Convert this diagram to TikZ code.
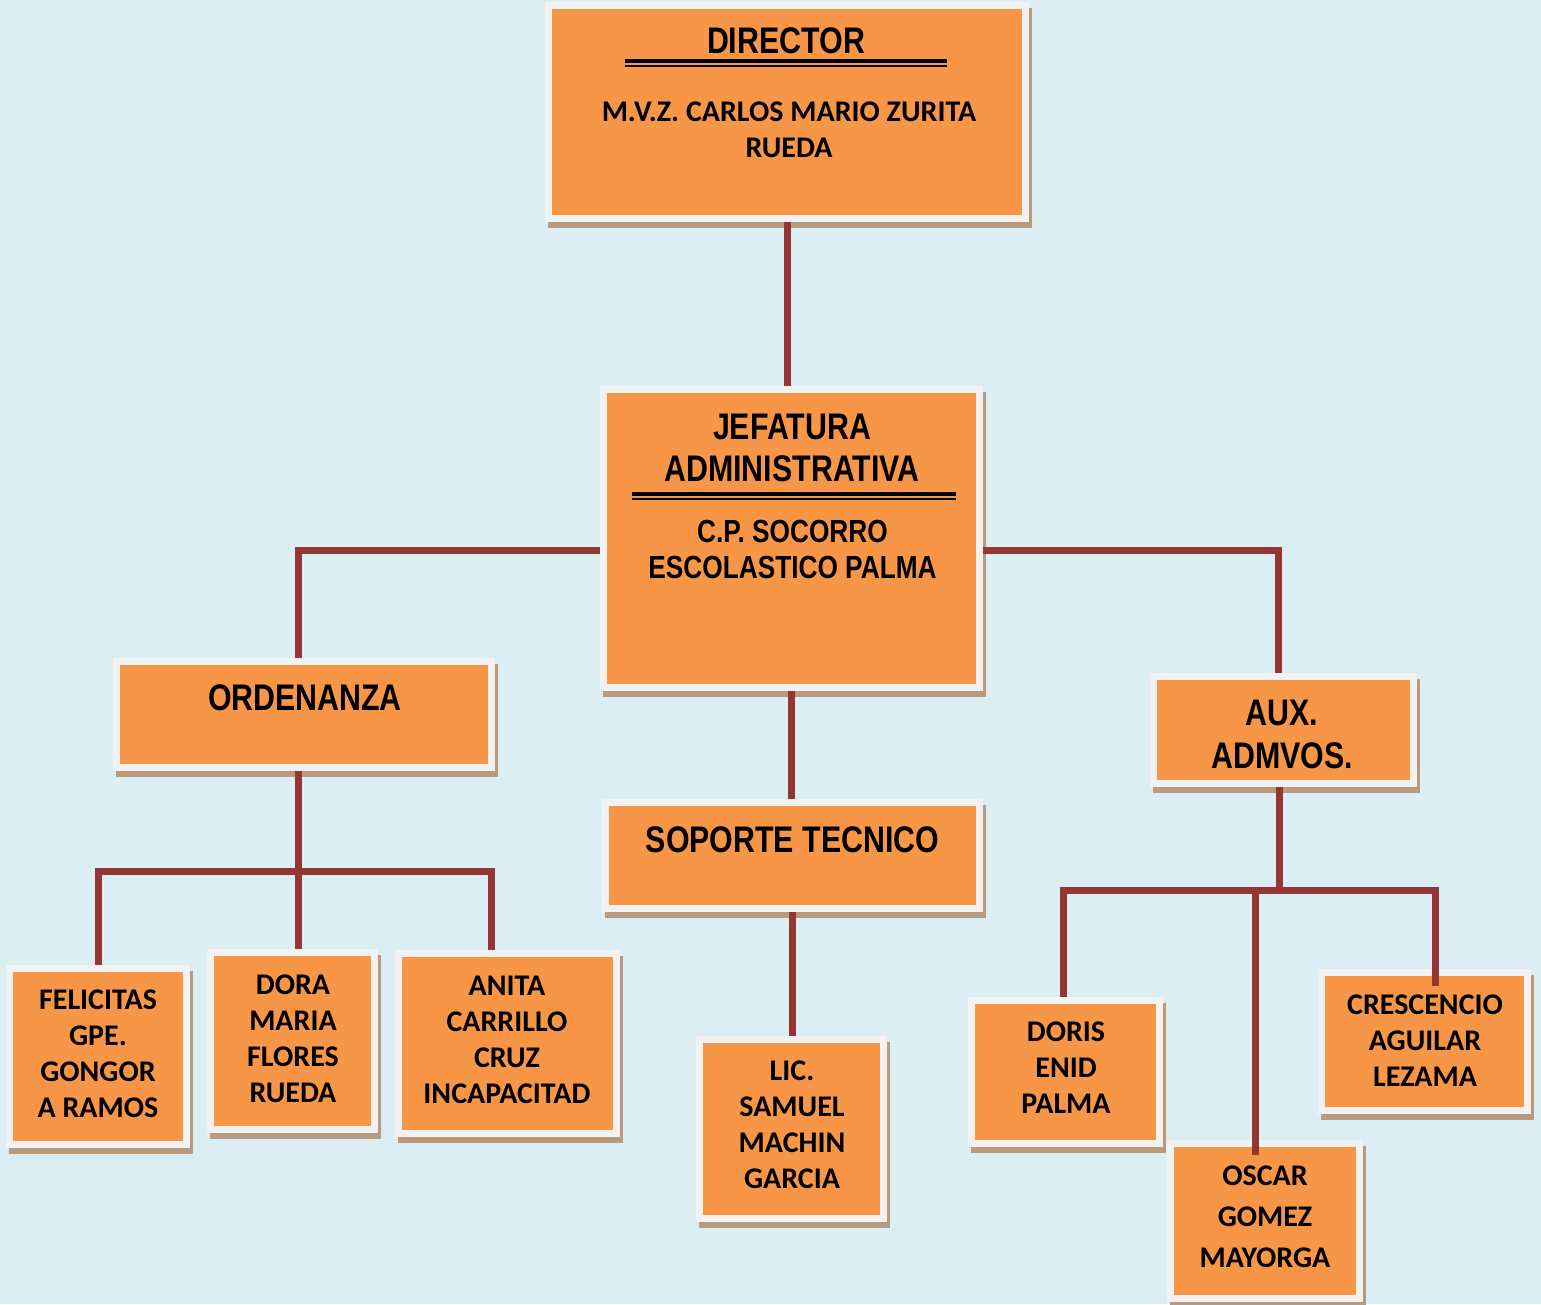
\documentclass[tikz,border=0pt]{standalone}
\usepackage{fontspec}
\newfontfamily\hdfont[FakeStretch=0.82]{Liberation Sans}
\newfontfamily\nmfont{Carlito}
\usetikzlibrary{shadows,positioning}
\definecolor{bgc}{HTML}{DAEEF3}
\definecolor{boxc}{HTML}{F79646}
\definecolor{framec}{HTML}{F2F2F2}
\definecolor{shadc}{HTML}{B99A7C}
\definecolor{linkc}{HTML}{943634}

\begin{document}
\begin{tikzpicture}[x=1pt, y=-1pt,
    box/.style={rectangle, fill=boxc, draw=framec, line width=7pt, inner sep=0pt,
      drop shadow={shadow xshift=3pt, shadow yshift=-6pt, fill=shadc, draw=shadc,
                   line width=7pt, opacity=1}},
    link/.style={draw=linkc, line width=7pt},
    ulthick/.style={draw=black, line width=4pt},
    ulthin/.style={draw=black, line width=1.6pt},
    hd/.style={font=\hdfont\bfseries\fontsize{37}{42}\selectfont, align=center, anchor=base, inner sep=0pt},
    sub/.style={font=\hdfont\bfseries\fontsize{32}{36}\selectfont, align=center, anchor=base, inner sep=0pt},
    nm/.style={font=\nmfont\bfseries\fontsize{30}{36}\selectfont, align=center, anchor=base, inner sep=0pt}]

  \fill[bgc] (0,0) rectangle (1541,1304);
  \useasboundingbox (0,0) rectangle (1541,1304);

  % boxes
  \node[box, minimum width=477pt, minimum height=213pt] (dir) at (787,112) {};
  \node[box, minimum width=376pt, minimum height=298pt] (jefe) at (791.5,538.5) {};
  \node[box, minimum width=375pt, minimum height=106pt] (orden) at (304,714.5) {};
  \node[box, minimum width=374pt, minimum height=106pt] (sop) at (792.5,855.5) {};
  \node[box, minimum width=260pt, minimum height=107pt] (aux) at (1283.5,730) {};
  \node[box, minimum width=177pt, minimum height=176pt] (felic) at (98,1056.5) {};
  \node[box, minimum width=164pt, minimum height=177pt] (dora) at (292.5,1041) {};
  \node[box, minimum width=218pt, minimum height=180pt] (anita) at (507.5,1043.5) {};
  \node[box, minimum width=184pt, minimum height=179pt] (lic) at (791.5,1129) {};
  \node[box, minimum width=188pt, minimum height=143pt] (doris) at (1065.5,1072) {};
  \node[box, minimum width=189pt, minimum height=155pt] (oscar) at (1265,1221) {};
  \node[box, minimum width=206pt, minimum height=138pt] (cresc) at (1424.5,1041.5) {};

  % texts (base = last line)
  \node[hd] (dirt) at (786,53) {DIRECTOR};
  \draw[ulthick] (625,61.3) -- (947,61.3);
  \draw[ulthin] (625,65.8) -- (947,65.8);
  \node[nm] (dirn) at (789,157) {M.V.Z. CARLOS MARIO ZURITA\\RUEDA};
  \node[hd] (jefet) at (792,481) {JEFATURA\\ADMINISTRATIVA};
  \draw[ulthick] (632,494.2) -- (956,494.2);
  \draw[ulthin] (632,499.2) -- (956,499.2);
  \node[sub] (jefen) at (792.5,578) {C.P. SOCORRO\\ESCOLASTICO PALMA};
  \node[hd] (ordent) at (305,710) {ORDENANZA};
  \node[hd] (sopt) at (792.5,852) {SOPORTE TECNICO};
  \node[hd, font=\hdfont\bfseries\fontsize{37}{43}\selectfont] (auxt) at (1282,768) {AUX.\\ADMVOS.};
  \node[nm] (felict) at (98,1117) {FELICITAS\\GPE.\\GONGOR\\A RAMOS};
  \node[nm] (dorat) at (293,1102) {DORA\\MARIA\\FLORES\\RUEDA};
  \node[nm] (anitat) at (507,1103) {ANITA\\CARRILLO\\CRUZ\\INCAPACITAD};
  \node[nm] (lict) at (792,1188) {LIC.\\SAMUEL\\MACHIN\\GARCIA};
  \node[nm] (dorist) at (1066,1113) {DORIS\\ENID\\PALMA};
  \node[nm, font=\nmfont\bfseries\fontsize{30}{41}\selectfont] (oscart) at (1265,1267) {OSCAR\\GOMEZ\\MAYORGA};
  \node[nm] (cresct) at (1425,1086) {CRESCENCIO\\AGUILAR\\LEZAMA};

  % connectors
  \draw[link] (dir.south) -- (dir.south |- jefe.north);
  \draw[link] ([yshift=-12pt]jefe.west) -| ([xshift=-6pt]orden.north);
  \draw[link] ([yshift=-12pt]jefe.east) -| ([xshift=-5pt]aux.north);
  \draw[link] (jefe.south) -- (jefe.south |- sop.north);
  \draw[link] (sop.south) -- (sop.south |- lic.north);

  \coordinate (obar) at (298,871);
  \draw[link] ([xshift=-6pt]orden.south) -- ([xshift=5.5pt]dora.north);
  \draw[link] (felic.north) |- (obar) -| ([xshift=-16.5pt]anita.north);

  \coordinate (abar) at (1279,890);
  \draw[link] ([xshift=-4.5pt]aux.south) -- (abar);
  \draw[link] ([xshift=-2.5pt]doris.north) |- (abar) -| ([xshift=10.5pt,yshift=-17pt]cresc.north);
  \draw[link] ([xshift=-10pt]oscar.north |- abar) -- ([xshift=-10pt,yshift=-15pt]oscar.north);
\end{tikzpicture}
\end{document}
